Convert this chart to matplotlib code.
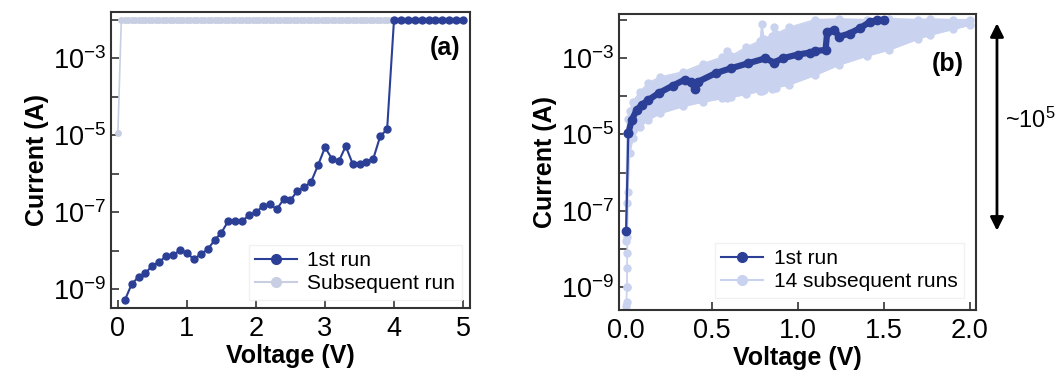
import numpy as np
import matplotlib
matplotlib.use("Agg")
import matplotlib.pyplot as plt
from matplotlib.lines import Line2D
from matplotlib.ticker import FixedLocator, NullFormatter, LogFormatterMathtext

plt.rcParams['font.family'] = ['Liberation Sans', 'DejaVu Sans']
plt.rcParams['mathtext.fontset'] = 'custom'
plt.rcParams['mathtext.rm'] = 'Liberation Sans'
plt.rcParams['mathtext.it'] = 'Liberation Sans:italic'
plt.rcParams['mathtext.bf'] = 'Liberation Sans:bold'

# ---- panel (a): first run vs subsequent run ----
first_v = [0.1, 0.2, 0.3, 0.4, 0.5, 0.6, 0.7, 0.8, 0.9, 1.0,
           1.1, 1.2, 1.3, 1.4, 1.5, 1.6, 1.7, 1.8, 1.9, 2.0,
           2.1, 2.2, 2.3, 2.4, 2.5, 2.6, 2.7, 2.8, 2.9, 3.0,
           3.1, 3.2, 3.3, 3.4, 3.5, 3.6, 3.7, 3.8, 3.9, 4.0,
           4.1, 4.2, 4.3, 4.4, 4.5, 4.6, 4.7, 4.8, 4.9, 5.0]
first_log_i = [-9.29, -8.87, -8.68, -8.58, -8.39, -8.29, -8.14, -8.12, -7.99, -8.05,
               -8.23, -8.09, -7.97, -7.73, -7.53, -7.23, -7.23, -7.23, -7.08, -7.01,
               -6.84, -6.79, -6.93, -6.67, -6.69, -6.45, -6.36, -6.21, -5.78, -5.32,
               -5.61, -5.68, -5.29, -5.74, -5.76, -5.69, -5.61, -5.03, -4.85, -2.0,
               -2.0, -2.0, -2.0, -2.0, -2.0, -2.0, -2.0, -2.0, -2.0, -2.0]
first_i = [10 ** v for v in first_log_i]

# subsequent run: ~1e-5 A at 0 V, then at 10 mA compliance for the rest of the sweep
sub_v = list(np.round(np.arange(0, 5.001, 0.05), 2))
sub_i = [1.1e-5] + [1e-2] * (len(sub_v) - 1)

# ---- panel (b): first run vs 14 subsequent runs ----
b_first_v = [0.0, 0.013, 0.033, 0.062, 0.091, 0.13, 0.19, 0.27, 0.34, 0.38,
             0.40, 0.42, 0.52, 0.61, 0.71, 0.81, 0.86, 0.91, 1.00, 1.07,
             1.10, 1.16, 1.17, 1.21, 1.24, 1.30, 1.36, 1.42, 1.46, 1.50]
b_first_log_i = [-7.54, -4.97, -4.62, -4.36, -4.23, -4.10, -3.92, -3.73, -3.57, -3.62,
                 -3.82, -3.62, -3.40, -3.27, -3.14, -3.01, -3.12, -3.01, -2.91, -2.86,
                 -2.82, -2.79, -2.31, -2.27, -2.44, -2.36, -2.22, -2.05, -2.01, -2.0]
b_first_i = [10 ** v for v in b_first_log_i]

# envelope of the 14 subsequent runs (upper / lower edge of the cloud)
env_v = [0.0, 0.005, 0.01, 0.02, 0.04, 0.08, 0.13, 0.2, 0.33, 0.45,
         0.56, 0.585, 0.61, 0.7, 0.78, 0.79, 0.80, 0.85, 0.86, 0.87,
         0.95, 1.1, 1.24, 1.4, 1.53, 1.7, 1.77, 1.9, 2.0]
env_upper_log = [-7.8, -5.0, -4.6, -4.4, -4.15, -3.9, -3.65, -3.5, -3.37, -3.15,
                 -2.98, -2.83, -2.95, -2.72, -2.55, -2.1, -2.5, -2.42, -2.2, -2.38,
                 -2.2, -2.0, -1.98, -2.0, -1.97, -2.0, -1.98, -2.0, -2.0]
env_lower_log = [-9.5, -9.0, -6.5, -5.5, -5.1, -4.8, -4.62, -4.45, -4.27, -4.15,
                 -4.06, -4.05, -4.03, -3.95, -3.87, -3.86, -3.85, -3.8, -3.79, -3.78,
                 -3.7, -3.45, -3.18, -2.95, -2.79, -2.5, -2.4, -2.25, -2.14]
env_upper = [10 ** v for v in env_upper_log]
env_lower = [10 ** v for v in env_lower_log]

# scattered low-current starting points of the subsequent runs near 0 V
start_v = [0.003, 0.004, 0.003, 0.005, 0.004, 0.006]
start_i = [10 ** -9.4, 10 ** -9.0, 10 ** -8.5, 10 ** -8.1, 10 ** -7.7, 10 ** -6.8]

dark = '#2B3F96'
light = '#C9D2EE'
light_a = '#C8CFE2'

fig = plt.figure(figsize=(10.64, 3.79), dpi=100)
ax_a = fig.add_axes([0.1043, 0.1873, 0.3374, 0.781])
ax_b = fig.add_axes([0.5818, 0.182, 0.3355, 0.781])

# panel (a)
ax_a.plot(sub_v, sub_i, '-o', color=light_a, mfc=light_a, mec=light_a,
          ms=4, lw=1.2, zorder=2)
ax_a.plot(first_v, first_i, '-o', color=dark, mfc=dark, mec=dark,
          ms=5, lw=1.5, zorder=3)
ax_a.set_xlim(-0.1, 5.1)
ax_a.set_ylim(10 ** -9.49, 10 ** -1.805)
ax_a.set_xticks([0, 1, 2, 3, 4, 5])

h_first = Line2D([], [], color=dark, marker='o', ms=7, lw=1.5)
h_sub = Line2D([], [], color=light_a, marker='o', ms=7, lw=1.5)
h_sub_b = Line2D([], [], color=light, marker='o', ms=7, lw=1.5)

ax_a.legend([h_first, h_sub], ['1st run', 'Subsequent run'], loc='lower right',
            fontsize=15, frameon=True, edgecolor='#EEEEEE', fancybox=False,
            borderaxespad=0.4, handletextpad=0.5, labelspacing=0.2, borderpad=0.3)
ax_a.text(0.93, 0.88, '(a)', transform=ax_a.transAxes, fontsize=18,
          fontweight='bold', ha='center', va='center')

# panel (b)
ax_b.fill_between(env_v, env_lower, env_upper, color=light, lw=0, zorder=1)
ax_b.plot(env_v, env_upper, '-o', color=light, mfc=light, mec=light,
          ms=5, lw=1.2, zorder=2)
ax_b.plot(env_v, env_lower, '-o', color=light, mfc=light, mec=light,
          ms=5, lw=1.2, zorder=2)
ax_b.plot(start_v, start_i, 'o', color=light, ms=5, zorder=2)
# thin jump from the first point, then the dense (thick-looking) trace
ax_b.plot(b_first_v[:2], b_first_i[:2], '-o', color=dark, mfc=dark, mec=dark,
          ms=6, lw=1.6, zorder=3)
ax_b.plot(b_first_v[1:], b_first_i[1:], '-o', color=dark, mfc=dark, mec=dark,
          ms=6, lw=4.5, zorder=3)
ax_b.set_xlim(-0.041, 2.035)
ax_b.set_ylim(10 ** -9.6, 10 ** -1.85)
ax_b.set_xticks([0.0, 0.5, 1.0, 1.5, 2.0])
ax_b.set_xticklabels(['0.0', '0.5', '1.0', '1.5', '2.0'])
ax_b.legend([h_first, h_sub_b], ['1st run', '14 subsequent runs'], loc='lower right',
            fontsize=15, frameon=True, edgecolor='#EEEEEE', fancybox=False,
            borderaxespad=0.6, handletextpad=0.5, labelspacing=0.2, borderpad=0.3)
ax_b.text(0.92, 0.83, '(b)', transform=ax_b.transAxes, fontsize=18,
          fontweight='bold', ha='center', va='center')

for ax in (ax_a, ax_b):
    ax.set_yscale('log')
    ax.yaxis.set_major_locator(FixedLocator([1e-9, 1e-7, 1e-5, 1e-3]))
    ax.yaxis.set_major_formatter(LogFormatterMathtext())
    ax.yaxis.set_minor_locator(FixedLocator([1e-8, 1e-6, 1e-4, 1e-2]))
    ax.yaxis.set_minor_formatter(NullFormatter())
    ax.tick_params(which='both', direction='in', length=6, width=1.2,
                   labelsize=19.5, color='#333333', top=False, right=False)
    ax.tick_params(axis='x', pad=6)
    for s in ax.spines.values():
        s.set_color('#333333')
        s.set_linewidth(1.5)
    ax.set_xlabel('Voltage (V)', fontsize=18, fontweight='bold', labelpad=1)
    ax.set_ylabel('Current (A)', fontsize=18, fontweight='bold', labelpad=3)

# order-of-magnitude arrow beside panel (b)
fig.add_artist(matplotlib.patches.FancyArrowPatch(
    (0.937, 0.946), (0.937, 0.384), transform=fig.transFigure,
    arrowstyle='<|-|>', mutation_scale=20, color='black', lw=2))
fig.text(0.9445, 0.683, '~10$^5$', fontsize=17, ha='left', va='center')

fig.savefig('out.png', dpi=100)
